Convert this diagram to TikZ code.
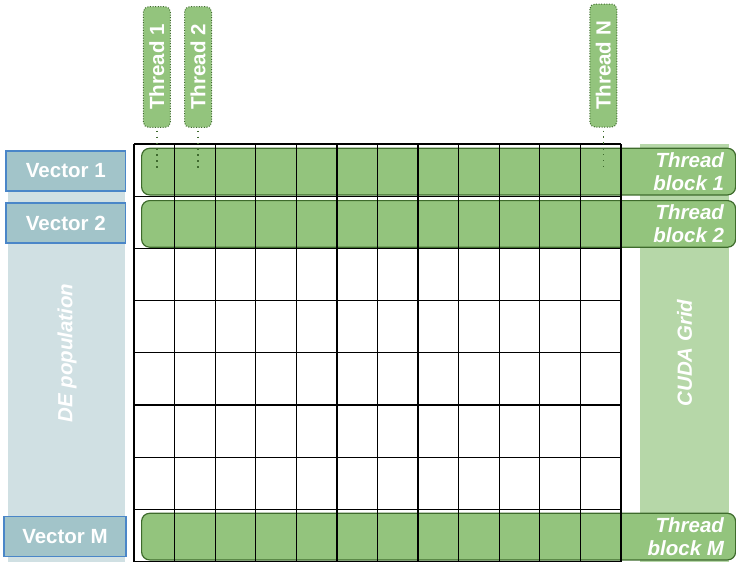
\documentclass[tikz,border=0pt]{standalone}
\usepackage{fontspec}
\setmainfont{Liberation Sans}
\definecolor{bargreen}{HTML}{93C47D}
\definecolor{barline}{HTML}{3E6B2C}
\definecolor{cudafill}{HTML}{B6D7A8}
\definecolor{defill}{HTML}{D0E0E3}
\definecolor{vecfill}{HTML}{A2C4C9}
\definecolor{vecline}{HTML}{4A86C8}
\definecolor{thrline}{HTML}{3F6A2E}
\begin{document}
\begin{tikzpicture}[x=1pt,y=-1pt,
  bar/.style={draw=barline, fill=bargreen, line width=1.2pt, rounded corners=8pt, anchor=north west, inner sep=0pt},
  blocktext/.style={text=white, align=right, inner sep=0pt, font=\bfseries\itshape\fontsize{20.5}{23}\selectfont},
  vec/.style={draw=vecline, fill=vecfill, line width=1.2pt, text=white, minimum height=40pt, inner sep=0pt, font=\bfseries\fontsize{20.5}{24}\selectfont},
  thr/.style={draw=thrline, fill=bargreen, dash pattern=on 1pt off 1.6pt, line width=1pt, rounded corners=5pt, rotate=90, text=white, minimum height=27pt, inner sep=0pt, font=\bfseries\fontsize{20.5}{24}\selectfont},
  dotline/.style={draw=thrline, line width=1.4pt, dash pattern=on 1.3pt off 4.6pt},
  gridline/.style={line width=1.3pt, draw=black},
  sidetext/.style={rotate=90, text=white, inner sep=0pt, font=\bfseries\itshape\fontsize{20.5}{24}\selectfont}
]
\useasboundingbox (0,0) rectangle (736,562);

% background columns
\node[fill=defill, anchor=north west, minimum width=117pt, minimum height=410pt, inner sep=0pt] (de) at (8,152) {};
\node[fill=cudafill, anchor=north west, minimum width=89pt, minimum height=418pt, inner sep=0pt] (cuda) at (640,144) {};
\node[sidetext] (detext) at (67,353) {DE population};
\node[sidetext] (cudatext) at (684.5,353) {CUDA Grid};

% thread blocks
\node[bar, minimum width=594pt, minimum height=46.6pt] (b1) at (141,147.7) {};
\node[bar, minimum width=594pt, minimum height=46.6pt] (b2) at (141,200) {};
\node[bar, minimum width=594pt, minimum height=46.6pt] (bm) at (141,512.7) {};

% grid
\foreach \i in {0,...,12} \draw[gridline] ({134+40.58*\i},144) -- ({134+40.58*\i},561.6);
\foreach \j in {0,...,8} \draw[gridline] (134,{144+52.2*\j}) -- (620.96,{144+52.2*\j});

\node[blocktext, anchor=east] (bt1) at ([xshift=-12pt]b1.east) {Thread\\block 1};
\node[blocktext, anchor=east] (bt2) at ([xshift=-12pt]b2.east) {Thread\\block 2};
\node[blocktext, anchor=east] (btm) at ([xshift=-12pt]bm.east) {Thread\\block M};

% vectors
\node[vec, minimum width=119.7pt] (v1) at (65.8,171) {Vector 1};
\node[vec, minimum width=119.7pt] (v2) at (65.8,223) {Vector 2};
\node[vec, minimum width=122pt] (vm) at (65,536.2) {Vector M};

% threads
\node[thr, minimum width=120.6pt] (t1) at (156.9,67) {Thread 1};
\node[thr, minimum width=120.6pt] (t2) at (198,67) {Thread 2};
\node[thr, minimum width=123pt] (tn) at (603.3,65.5) {Thread N};
\coordinate (d1) at (156.9,171);
\coordinate (d2) at (198,171);
\coordinate (dn) at (603.3,171);
\draw[dotline, shorten <=3pt] (t1) -- (d1);
\draw[dotline, shorten <=3pt] (t2) -- (d2);
\draw[dotline, shorten <=3pt] (tn) -- (dn);
\end{tikzpicture}
\end{document}
